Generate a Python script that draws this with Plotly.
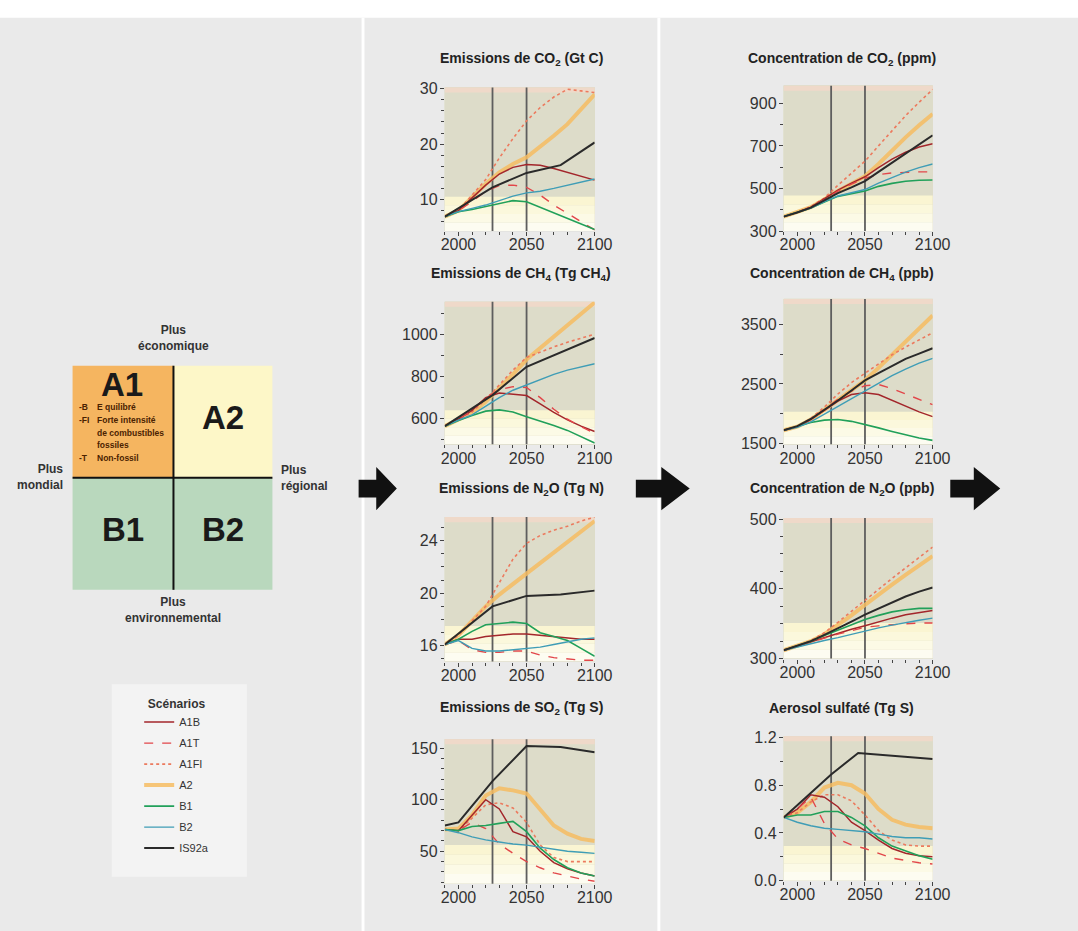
import plotly.graph_objects as go

W, H = 1078, 931

YEARS = [1990, 2000, 2010, 2020, 2030, 2040, 2050, 2060, 2070, 2080, 2090, 2100]
SCENARIOS = ["A1B", "A1T", "A1FI", "A2", "B1", "B2", "IS92a"]

# Emissions de CO2 (Gt C)
CO2_EMIS = {
    "A1B":  [6.9, 8.0, 10.3, 12.6, 14.6, 15.8, 16.3, 16.2, 15.6, 14.9, 14.2, 13.5],
    "A1T":  [6.9, 8.0, 9.6, 11.5, 12.5, 12.6, 12.2, 10.8, 9.0, 7.5, 6.0, 4.5],
    "A1FI": [6.9, 8.0, 10.8, 13.6, 17.5, 21.0, 24.2, 26.6, 28.5, 29.9, 29.6, 29.3],
    "A2":   [6.9, 8.0, 10.4, 12.8, 14.9, 16.4, 17.6, 19.5, 21.5, 23.6, 26.2, 29.0],
    "B1":   [6.9, 7.8, 8.2, 8.7, 9.3, 9.8, 9.6, 8.6, 7.5, 6.5, 5.5, 4.6],
    "B2":   [6.9, 7.8, 8.4, 9.0, 9.8, 10.6, 11.2, 11.5, 12.0, 12.6, 13.1, 13.7],
}
CO2_EMIS_IS92A_YEARS = [1990, 2025, 2050, 2075, 2100]
CO2_EMIS_IS92A = [6.9, 12.2, 14.8, 16.2, 20.3]

# Emissions de CH4 (Tg CH4)
CH4_EMIS = {
    "A1B":  [565, 598, 640, 700, 722, 716, 710, 670, 630, 595, 565, 540],
    "A1T":  [565, 598, 640, 700, 738, 752, 748, 700, 645, 598, 562, 532],
    "A1FI": [565, 598, 632, 690, 762, 830, 890, 916, 940, 962, 982, 1000],
    "A2":   [565, 596, 628, 680, 742, 810, 880, 935, 990, 1042, 1095, 1150],
    "B1":   [565, 592, 615, 636, 642, 632, 610, 590, 568, 545, 515, 485],
    "B2":   [565, 594, 618, 658, 700, 735, 760, 786, 810, 830, 846, 860],
}
CH4_EMIS_IS92A_YEARS = [1990, 2025, 2050, 2100]
CH4_EMIS_IS92A = [565, 712, 846, 982]

# Emissions de N2O (Tg N)
N2O_EMIS = {
    "A1B":  [16.1, 16.5, 16.5, 16.7, 16.8, 16.9, 16.9, 16.8, 16.7, 16.6, 16.5, 16.5],
    "A1T":  [16.1, 16.4, 15.7, 15.5, 15.5, 15.6, 15.6, 15.3, 15.1, 15.0, 14.9, 14.9],
    "A1FI": [16.1, 16.8, 17.9, 19.0, 20.8, 22.6, 23.8, 24.4, 24.8, 25.1, 25.5, 25.8],
    "A2":   [16.1, 16.8, 17.9, 19.0, 19.9, 20.7, 21.5, 22.3, 23.1, 23.9, 24.7, 25.5],
    "B1":   [16.1, 16.5, 17.1, 17.6, 17.7, 17.8, 17.7, 17.0, 16.7, 16.4, 15.8, 15.2],
    "B2":   [16.1, 16.4, 15.8, 15.6, 15.6, 15.7, 15.8, 15.9, 16.1, 16.3, 16.5, 16.6],
}
N2O_EMIS_IS92A_YEARS = [1990, 2025, 2050, 2075, 2100]
N2O_EMIS_IS92A = [16.1, 19.0, 19.8, 19.9, 20.2]

# Emissions de SO2 (Tg S)
SO2_EMIS = {
    "A1B":  [71, 70, 85, 100, 91, 69, 64, 50, 39, 33, 29, 26],
    "A1T":  [71, 70, 78, 72, 57, 48, 40, 34, 29, 26, 23, 21],
    "A1FI": [71, 70, 82, 95, 97, 92, 78, 56, 44, 40, 40, 40],
    "A2":   [71, 72, 85, 104, 111, 109, 106, 91, 75, 67, 62, 60],
    "B1":   [71, 70, 74, 75, 77, 79, 69, 53, 42, 34, 29, 26],
    "B2":   [71, 68, 64, 61, 59, 57, 56, 54, 52, 50, 49, 48],
}
SO2_EMIS_IS92A_YEARS = [1990, 2000, 2025, 2050, 2075, 2100]
SO2_EMIS_IS92A = [75, 78, 118, 152, 151, 146]

# Concentration de CO2 (ppm)
CO2_CONC = {
    "A1B":  [368, 388, 412, 450, 492, 525, 555, 598, 638, 670, 695, 710],
    "A1T":  [368, 388, 412, 448, 488, 520, 548, 565, 573, 577, 578, 578],
    "A1FI": [368, 389, 415, 455, 515, 570, 628, 700, 772, 842, 905, 965],
    "A2":   [368, 388, 412, 448, 488, 522, 558, 615, 680, 740, 797, 850],
    "B1":   [368, 387, 408, 437, 463, 476, 488, 510, 524, 534, 539, 540],
    "B2":   [368, 387, 408, 438, 465, 480, 495, 525, 552, 577, 598, 615],
}
CO2_CONC_IS92A_YEARS = YEARS
CO2_CONC_IS92A = [368, 387, 410, 443, 478, 505, 535, 578, 622, 665, 708, 750]

# Concentration de CH4 (ppb)
CH4_CONC = {
    "A1B":  [1720, 1780, 1900, 2060, 2210, 2320, 2350, 2320, 2220, 2120, 2030, 1950],
    "A1T":  [1720, 1780, 1900, 2070, 2240, 2380, 2470, 2490, 2420, 2330, 2240, 2150],
    "A1FI": [1720, 1780, 1920, 2110, 2330, 2520, 2680, 2830, 2990, 3120, 3240, 3360],
    "A2":   [1720, 1780, 1900, 2060, 2220, 2390, 2560, 2770, 2990, 3200, 3430, 3650],
    "B1":   [1720, 1790, 1850, 1890, 1900, 1870, 1820, 1760, 1700, 1640, 1590, 1550],
    "B2":   [1720, 1770, 1860, 1990, 2130, 2260, 2390, 2520, 2640, 2750, 2850, 2930],
}
CH4_CONC_IS92A_YEARS = YEARS
CH4_CONC_IS92A = [1720, 1790, 1910, 2060, 2220, 2390, 2560, 2680, 2800, 2920, 3010, 3100]

# Concentration de N2O (ppb)
N2O_CONC = {
    "A1B":  [312, 318, 324, 331, 337, 342, 347, 353, 358, 363, 366, 369],
    "A1T":  [312, 318, 324, 330, 335, 340, 345, 347, 349, 350, 351, 351],
    "A1FI": [312, 318, 326, 337, 352, 368, 384, 400, 415, 430, 445, 460],
    "A2":   [312, 318, 325, 335, 348, 362, 377, 392, 406, 420, 434, 447],
    "B1":   [312, 318, 325, 333, 341, 349, 356, 362, 367, 370, 372, 372],
    "B2":   [312, 317, 321, 326, 330, 335, 339, 344, 348, 352, 355, 358],
}
N2O_CONC_IS92A_YEARS = YEARS
N2O_CONC_IS92A = [312, 318, 325, 334, 343, 353, 363, 372, 381, 389, 396, 402]

# Aerosol sulfaté (Tg S)
AEROSOL = {
    "A1B":  [0.53, 0.60, 0.72, 0.70, 0.62, 0.49, 0.42, 0.34, 0.27, 0.23, 0.21, 0.20],
    "A1T":  [0.53, 0.60, 0.70, 0.48, 0.35, 0.30, 0.27, 0.23, 0.19, 0.17, 0.15, 0.14],
    "A1FI": [0.53, 0.57, 0.66, 0.72, 0.72, 0.67, 0.55, 0.42, 0.34, 0.30, 0.29, 0.29],
    "A2":   [0.53, 0.57, 0.66, 0.78, 0.82, 0.80, 0.73, 0.60, 0.51, 0.47, 0.45, 0.44],
    "B1":   [0.53, 0.55, 0.55, 0.58, 0.58, 0.53, 0.46, 0.36, 0.29, 0.25, 0.21, 0.18],
    "B2":   [0.53, 0.49, 0.46, 0.44, 0.43, 0.42, 0.41, 0.39, 0.37, 0.36, 0.36, 0.35],
}
AEROSOL_IS92A_YEARS = [1990, 2025, 2045, 2100]
AEROSOL_IS92A = [0.53, 0.89, 1.07, 1.02]

X_TICKS = [2000, 2050, 2100]
MARKER_YEARS = [2025, 2050]

FONT = "Arial, Liberation Sans, Helvetica, sans-serif"


def px(x):
    return x / W


def py(y):
    return 1 - y / H


STYLE = {
    "A1B":   dict(color="#a3262b", width=1.5, dash="solid"),
    "A1T":   dict(color="#e2464a", width=1.4, dash="dash"),
    "A1FI":  dict(color="#ec7a5e", width=1.6, dash="dot"),
    "A2":    dict(color="rgba(246,188,98,0.85)", width=4, dash="solid"),
    "B1":    dict(color="#21a05a", width=1.6, dash="solid"),
    "B2":    dict(color="#3f9db6", width=1.4, dash="solid"),
    "IS92a": dict(color="#2a2a2a", width=2, dash="solid"),
}
ZORDER = {"A2": 0, "A1B": 2, "A1T": 2, "A1FI": 1, "B1": 2, "B2": 2, "IS92a": 3}

# title, series, IS92a (years, values), plot-area box in px (left, top, right, bottom),
# y range, y tick values, minor step, tick format, top of the pale band
PANELS = [
    ("Emissions de CO<sub>2</sub> (Gt C)", CO2_EMIS, CO2_EMIS_IS92A_YEARS, CO2_EMIS_IS92A,
     (450, 82, 603, 228), [4.3, 30.2], [10, 20, 30], 2, "d", 10.5),
    ("Emissions de CH<sub>4</sub> (Tg CH<sub>4</sub>)", CH4_EMIS, CH4_EMIS_IS92A_YEARS, CH4_EMIS_IS92A,
     (450, 300, 603, 445), [479, 1153], [600, 800, 1000], 100, "d", 640),
    ("Emissions de N<sub>2</sub>O (Tg N)", N2O_EMIS, N2O_EMIS_IS92A_YEARS, N2O_EMIS_IS92A,
     (450, 519, 603, 666), [14.8, 25.8], [16, 20, 24], 1, "d", 17.5),
    ("Emissions de SO<sub>2</sub> (Tg S)", SO2_EMIS, SO2_EMIS_IS92A_YEARS, SO2_EMIS_IS92A,
     (450, 745, 603, 892), [18.6, 158.6], [50, 100, 150], 10, "d", 56),
    ("Concentration de CO<sub>2</sub> (ppm)", CO2_CONC, CO2_CONC_IS92A_YEARS, CO2_CONC_IS92A,
     (796, 80, 948, 228), [300, 983], [300, 500, 700, 900], 100, "d", 467),
    ("Concentration de CH<sub>4</sub> (ppb)", CH4_CONC, CH4_CONC_IS92A_YEARS, CH4_CONC_IS92A,
     (796, 297, 948, 445), [1483, 3930], [1500, 2500, 3500], 500, "d", 2030),
    ("Concentration de N<sub>2</sub>O (ppb)", N2O_CONC, N2O_CONC_IS92A_YEARS, N2O_CONC_IS92A,
     (796, 520, 948, 663), [300, 501.5], [300, 400, 500], 25, "d", 351),
    ("Aerosol sulfaté (Tg S)", AEROSOL, AEROSOL_IS92A_YEARS, AEROSOL_IS92A,
     (796, 742, 948, 889), [0, 1.21], [0.0, 0.4, 0.8, 1.2], 0.2, ".1f", 0.29),
]
TITLE_Y = [53, 272, 490, 713, 53, 272, 490, 713]
TITLE_X = [528, 528, 528, 528, 855, 855, 855, 855]

fig = go.Figure()
shapes = []
annotations = []
layout_axes = {}

# page furniture: white top strip and column separators
shapes.append(dict(type="rect", xref="paper", yref="paper", x0=-0.01, x1=1.02, y0=py(11), y1=1.01,
                   fillcolor="white", line=dict(width=0), layer="below"))
for sx in (365, 667):
    shapes.append(dict(type="rect", xref="paper", yref="paper", x0=px(sx), x1=px(sx + 3),
                       y0=-0.01, y1=py(11), fillcolor="white", line=dict(width=0), layer="below"))

AX = "#444444"
for i, (title, series, is_years, is_vals, box, yr, yt, minor, tfmt, band) in enumerate(PANELS, start=1):
    left, top, right, bottom = box
    xa = "x" if i == 1 else f"x{i}"
    ya = "y" if i == 1 else f"y{i}"
    common = dict(showgrid=False, zeroline=False, showline=True, linecolor=AX, linewidth=1,
                  ticks="outside", ticklen=4, tickcolor=AX, tickwidth=1,
                  tickfont=dict(family=FONT, size=16, color="#333333"), fixedrange=True)
    layout_axes["xaxis" if i == 1 else f"xaxis{i}"] = dict(
        common, domain=[px(left), px(right)], range=[1990, 2100], tickvals=X_TICKS,
        anchor=ya, ticklabelstandoff=-5,
        minor=dict(tick0=1990, dtick=10, ticks="outside", ticklen=3, tickcolor=AX))
    layout_axes["yaxis" if i == 1 else f"yaxis{i}"] = dict(
        common, domain=[py(bottom), py(top)], range=yr, tickvals=yt, tickformat=tfmt,
        anchor=xa, ticklabelstandoff=-1,
        minor=dict(tick0=0, dtick=minor, ticks="outside", ticklen=3, tickcolor=AX))

    # background bands of the plotting area
    xd, yd = f"{xa} domain", f"{ya} domain"
    shapes.append(dict(type="rect", xref=xd, yref=yd, x0=0, x1=1, y0=0, y1=1,
                       fillcolor="#dddcc9", line=dict(width=0), layer="below"))
    shapes.append(dict(type="rect", xref=xd, yref=yd, x0=0, x1=1, y0=0.965, y1=1,
                       fillcolor="#efd9c9", line=dict(width=0), layer="below"))
    fades = ["#fdfcf1", "#fcfae6", "#fbf8dc", "#faf5d2"]
    lo = yr[0]
    step = (band - lo) / len(fades)
    for k, c in enumerate(fades):
        shapes.append(dict(type="rect", xref=xd, yref=ya, x0=0, x1=1,
                           y0=lo + k * step, y1=lo + (k + 1) * step,
                           fillcolor=c, line=dict(width=0), layer="below"))
    for my in MARKER_YEARS:
        shapes.append(dict(type="line", xref=xa, yref=yd, x0=my, x1=my, y0=0, y1=1,
                           line=dict(color="#5e5e5e", width=1.8), layer="below"))

    for name in SCENARIOS:
        if name == "IS92a":
            xs, ys = is_years, is_vals
        else:
            xs, ys = YEARS, series[name]
        st = STYLE[name]
        fig.add_trace(go.Scatter(
            x=xs, y=ys, mode="lines", name=name, xaxis=xa, yaxis=ya,
            line=dict(color=st["color"], width=st["width"], dash=st["dash"]),
            legendgroup=name, showlegend=(i == 1), zorder=ZORDER[name],
            hoverinfo="skip"))

    annotations.append(dict(xref="paper", yref="paper", x=px(TITLE_X[i - 1]), y=py(TITLE_Y[i - 1]),
                            text=title, showarrow=False, xanchor="center", yanchor="middle",
                            font=dict(family=FONT, size=14, color="#222222", weight="bold")))


# arrows between the three columns
def arrow_path(x0, xh, x1, yc, sh, hh):
    pts = [(x0, yc - sh), (xh, yc - sh), (xh, yc - hh), (x1, yc),
           (xh, yc + hh), (xh, yc + sh), (x0, yc + sh)]
    return "M " + " L ".join(f"{px(x):.5f},{py(y):.5f}" for x, y in pts) + " Z"


for x0, xh, x1 in [(362, 380, 401), (645, 671, 700), (966, 990, 1017)]:
    shapes.append(dict(type="path", xref="paper", yref="paper",
                       path=arrow_path(x0, xh, x1, 490, 9, 22),
                       fillcolor="#111111", line=dict(width=0)))

# scenario quadrant
QL, QT, QM, QH, QR, QB = 70, 365, 173, 479, 274, 593
for (a, b, c, d, col) in [(QL, QT, QM, QH, "#f5b560"), (QM, QT, QR, QH, "#fdf7c8"),
                          (QL, QH, QM, QB, "#b9d8bd"), (QM, QH, QR, QB, "#b9d8bd")]:
    shapes.append(dict(type="rect", xref="paper", yref="paper", x0=px(a), x1=px(c),
                       y0=py(d), y1=py(b), fillcolor=col, line=dict(width=0)))
shapes.append(dict(type="line", xref="paper", yref="paper", x0=px(QM), x1=px(QM),
                   y0=py(QB), y1=py(QT), line=dict(color="#111111", width=2)))
shapes.append(dict(type="line", xref="paper", yref="paper", x0=px(QL), x1=px(QR),
                   y0=py(QH), y1=py(QH), line=dict(color="#111111", width=2)))

for txt, x, y in [("A1", 120, 384), ("A2", 224, 418), ("B1", 121, 532), ("B2", 224, 532)]:
    annotations.append(dict(xref="paper", yref="paper", x=px(x), y=py(y), text=txt,
                            showarrow=False, xanchor="center", yanchor="middle",
                            font=dict(family=FONT, size=33, color="#1a1a1a", weight="bold")))

A1_LINES = [("-B", "E quilibré", 407), ("-FI", "Forte intensité", 420),
            ("", "de combustibles", 433), ("", "fossiles", 446), ("-T", "Non-fossil", 459)]
A1_FONT = dict(family=FONT, size=8.5, color="#4a2200", weight="bold")
for tag, desc, y in A1_LINES:
    if tag:
        annotations.append(dict(xref="paper", yref="paper", x=px(75), y=py(y), text=tag,
                                showarrow=False, xanchor="left", yanchor="middle", font=A1_FONT))
    annotations.append(dict(xref="paper", yref="paper", x=px(93), y=py(y), text=desc,
                            showarrow=False, xanchor="left", yanchor="middle", font=A1_FONT))

AXIS_TXT = dict(family=FONT, size=12, color="#333333", weight="bold")
annotations += [
    dict(xref="paper", yref="paper", x=px(173), y=py(337), text="Plus<br>économique",
         showarrow=False, xanchor="center", yanchor="middle", font=AXIS_TXT),
    dict(xref="paper", yref="paper", x=px(173), y=py(614), text="Plus<br>environnemental",
         showarrow=False, xanchor="center", yanchor="middle", font=AXIS_TXT),
    dict(xref="paper", yref="paper", x=px(62), y=py(478), text="Plus<br>mondial",
         showarrow=False, xanchor="right", yanchor="middle", align="right", font=AXIS_TXT),
    dict(xref="paper", yref="paper", x=px(281), y=py(479), text="Plus<br>régional",
         showarrow=False, xanchor="left", yanchor="middle", align="left", font=AXIS_TXT),
]

# legend panel
shapes.append(dict(type="rect", xref="paper", yref="paper", x0=px(110), x1=px(248),
                   y0=py(885), y1=py(689), fillcolor="#f3f3f3", line=dict(width=0),
                   layer="below"))

fig.update_layout(
    width=W, height=H, margin=dict(l=0, r=0, t=0, b=0),
    paper_bgcolor="#eaeaea", plot_bgcolor="#dddcc9",
    shapes=shapes, annotations=annotations,
    showlegend=True,
    legend=dict(x=px(138), y=py(697), xanchor="left", yanchor="top",
                bgcolor="rgba(0,0,0,0)", borderwidth=0,
                font=dict(family=FONT, size=11, color="#333333"),
                title=dict(text="Scénarios", side="top center",
                           font=dict(family=FONT, size=12, color="#333333", weight="bold")),
                traceorder="grouped", tracegroupgap=2, itemwidth=30),
    **layout_axes,
)

fig.write_html("out.html", config={"displayModeBar": False})
